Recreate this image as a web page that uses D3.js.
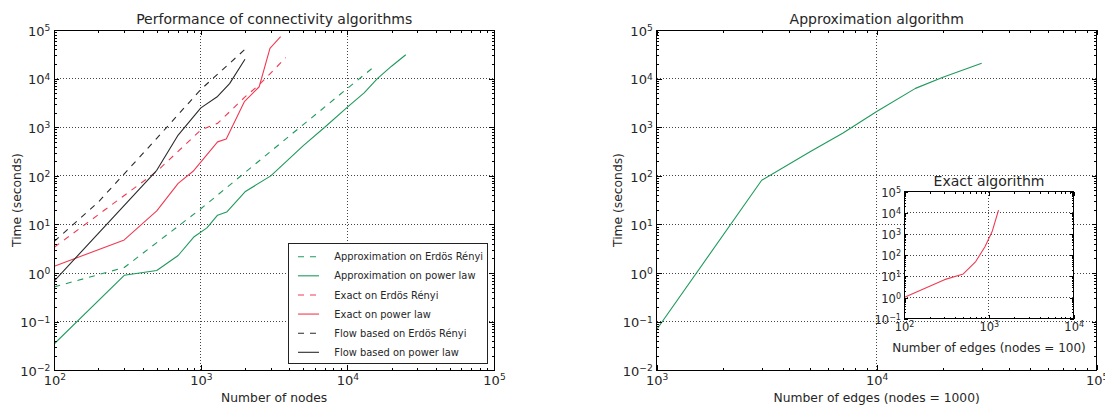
<!DOCTYPE html>
<html><head><meta charset="utf-8">
<script src="https://cdn.jsdelivr.net/npm/d3@7"></script>
<style>
body{margin:0;background:#fff}
svg{display:block}
text{font-family:"DejaVu Sans",sans-serif;fill:#262626}
</style>
</head><body>
<svg id="c" width="1105" height="405"></svg>
<script>
// ---------- data ----------
const approxERNodes = [100, 300, 1000, 3000, 10000, 15000];
const approxERTime  = [0.52, 1.3, 21, 320, 6300, 17000];
const approxPLNodes = [100, 300, 500, 700, 900, 1100, 1300, 1500, 2000, 3000, 5000, 7000, 10000, 13000, 16000, 20000, 25000];
const approxPLTime  = [0.035, 0.9, 1.13, 2.3, 5.6, 8.5, 15.5, 18, 47, 100, 420, 1000, 2600, 5100, 10000, 18000, 31000];
const exactERNodes  = [100, 500, 1000, 1300, 2000, 2500, 3800];
const exactERTime   = [3.4, 123, 880, 1200, 4200, 7500, 27000];
const exactPLNodes  = [100, 300, 500, 700, 885, 1300, 1490, 1980, 2500, 2960, 3500];
const exactPLTime   = [1.38, 4.8, 19, 70, 124, 500, 571, 3350, 6800, 42000, 73000];
const flowERNodes   = [100, 200, 500, 1000, 2000];
const flowERTime    = [4.5, 29, 590, 6000, 40000];
const flowPLNodes   = [100, 500, 700, 860, 1000, 1300, 1570, 2000];
const flowPLTime    = [0.69, 130, 690, 1450, 2500, 4300, 7900, 25000];

const approxEdges = [1000, 3000, 5000, 7000, 10000, 15000, 20000, 30000];
const approxTime  = [0.069, 81, 316, 750, 2100, 6300, 10700, 20600];
const exactEdges  = [100, 300, 500, 700, 900, 1100, 1300];
const exactTime   = [1, 7, 13, 50, 250, 1400, 13500];

const legendLabels = ["Approximation on Erdös Rényi", "Approximation on power law",
  "Exact on Erdös Rényi", "Exact on power law",
  "Flow based on Erdös Rényi", "Flow based on power law"];

const leftXTicks  = [1e2, 1e3, 1e4, 1e5];
const rightXTicks = [1e3, 1e4, 1e5];
const insetXTicks = [1e2, 1e3, 1e4];
const mainYTicks  = [1e-2, 1e-1, 1e0, 1e1, 1e2, 1e3, 1e4, 1e5];
const insetYTicks = [1e-1, 1e0, 1e1, 1e2, 1e3, 1e4, 1e5];

// ---------- styles ----------
const GREEN = "#1f9a5c", RED = "#f03a52", BLACK = "#2a2a2a";
const DASH = "6,6";

const svg = d3.select("#c");

function expStr(v) { const e = Math.round(Math.log10(v)); return e < 0 ? "\u2212" + (-e) : String(e); }
function minorsOf(domain) {
  const out = [];
  const a = Math.floor(Math.log10(domain[0])), b = Math.ceil(Math.log10(domain[1]));
  for (let d = a; d < b; d++) for (let k = 2; k <= 9; k++) {
    const v = k * Math.pow(10, d);
    if (v > domain[0] && v < domain[1]) out.push(v);
  }
  return out;
}
function supLabels(sel, fs) {
  sel.selectAll(".tick text").each(function(d) {
    const t = d3.select(this);
    t.text(null).attr("font-size", fs).attr("font-family", '"DejaVu Sans",sans-serif').attr("fill", "#262626");
    t.append("tspan").text("10");
    t.append("tspan").attr("dy", "-0.5em").attr("font-size", "0.7em").text(expStr(d));
  });
}

function drawAxes(g, x, y, o) {
  const [x0, x1] = x.range();
  const [yb, yt] = y.range();
  g.append("rect").attr("x", x0).attr("y", yt).attr("width", x1 - x0).attr("height", yb - yt).attr("fill", "#fff");
  const grid = g.append("g").attr("stroke", "#444").attr("stroke-width", 1).attr("stroke-dasharray", "1,2").attr("shape-rendering", "crispEdges");
  grid.selectAll("line.gx").data(o.xTicks.filter(v => x(v) > x0 + 1 && x(v) < x1 - 1)).join("line")
    .attr("x1", d => x(d)).attr("x2", d => x(d)).attr("y1", yt).attr("y2", yb);
  grid.selectAll("line.gy").data(o.yTicks.filter(v => y(v) > yt + 1 && y(v) < yb - 1)).join("line")
    .attr("class", "gy").attr("y1", d => y(d)).attr("y2", d => y(d)).attr("x1", x0).attr("x2", x1);
  return g;
}

function drawFrame(g, x, y, o) {
  const [x0, x1] = x.range();
  const [yb, yt] = y.range();
  const xm = minorsOf(x.domain()), ym = minorsOf(y.domain());
  const tk = (sel) => sel.call(s => s.select(".domain").remove())
    .call(s => s.selectAll(".tick line").attr("stroke", "#000").attr("shape-rendering", "crispEdges"));
  const b = g.append("g").attr("transform", `translate(0,${yb})`)
    .call(d3.axisBottom(x).tickValues(o.xTicks).tickSizeInner(-o.major).tickSizeOuter(0).tickPadding(o.xPad)).call(tk);
  supLabels(b, o.fs);
  g.append("g").attr("transform", `translate(0,${yb})`)
    .call(d3.axisBottom(x).tickValues(xm).tickSizeInner(-o.minor).tickSizeOuter(0).tickFormat("")).call(tk);
  g.append("g").attr("transform", `translate(0,${yt})`)
    .call(d3.axisTop(x).tickValues(o.xTicks).tickSizeInner(-o.major).tickSizeOuter(0).tickFormat("")).call(tk);
  g.append("g").attr("transform", `translate(0,${yt})`)
    .call(d3.axisTop(x).tickValues(xm).tickSizeInner(-o.minor).tickSizeOuter(0).tickFormat("")).call(tk);
  const l = g.append("g").attr("transform", `translate(${x0},0)`)
    .call(d3.axisLeft(y).tickValues(o.yTicks).tickSizeInner(-o.major).tickSizeOuter(0).tickPadding(o.yPad)).call(tk);
  supLabels(l, o.fs);
  l.selectAll(".tick text").attr("dy", "0.4em");
  g.append("g").attr("transform", `translate(${x0},0)`)
    .call(d3.axisLeft(y).tickValues(ym).tickSizeInner(-o.minor).tickSizeOuter(0).tickFormat("")).call(tk);
  g.append("g").attr("transform", `translate(${x1},0)`)
    .call(d3.axisRight(y).tickValues(o.yTicks).tickSizeInner(-o.major).tickSizeOuter(0).tickFormat("")).call(tk);
  g.append("g").attr("transform", `translate(${x1},0)`)
    .call(d3.axisRight(y).tickValues(ym).tickSizeInner(-o.minor).tickSizeOuter(0).tickFormat("")).call(tk);
  g.append("rect").attr("x", x0).attr("y", yt).attr("width", x1 - x0).attr("height", yb - yt)
    .attr("fill", "none").attr("stroke", "#000").attr("stroke-width", 1).attr("shape-rendering", "crispEdges");
}

function drawSeries(g, x, y, xs, ys, color, dashed) {
  const line = d3.line().x(d => x(d[0])).y(d => y(d[1]));
  g.append("path").datum(d3.zip(xs, ys)).attr("d", line)
    .attr("fill", "none").attr("stroke", color).attr("stroke-width", 1.1)
    .attr("stroke-dasharray", dashed ? DASH : null).attr("stroke-linejoin", "round");
}

// ---------- left panel ----------
const xL = d3.scaleLog().domain([1e2, 1e5]).range([54.3, 494]);
const yM = d3.scaleLog().domain([1e-2, 1e5]).range([370.3, 30]);
const gL = svg.append("g");
drawAxes(gL, xL, yM, { xTicks: leftXTicks, yTicks: mainYTicks });
svg.append("clipPath").attr("id", "clipL").append("rect").attr("x", 54.3).attr("y", 30).attr("width", 494 - 54.3).attr("height", 340.3);
const sL = gL.append("g").attr("clip-path", "url(#clipL)");
drawSeries(sL, xL, yM, approxERNodes, approxERTime, GREEN, true);
drawSeries(sL, xL, yM, approxPLNodes, approxPLTime, GREEN, false);
drawSeries(sL, xL, yM, exactERNodes, exactERTime, RED, true);
drawSeries(sL, xL, yM, exactPLNodes, exactPLTime, RED, false);
drawSeries(sL, xL, yM, flowERNodes, flowERTime, BLACK, true);
drawSeries(sL, xL, yM, flowPLNodes, flowPLTime, BLACK, false);
drawFrame(gL, xL, yM, { xTicks: leftXTicks, yTicks: mainYTicks, major: 5, minor: 2.5, fs: 13, xPad: 5, yPad: 4 });

// legend
const lg = gL.append("g");
lg.append("rect").attr("x", 288.5).attr("y", 243.5).attr("width", 199).attr("height", 120)
  .attr("fill", "#fff").attr("stroke", "#222").attr("stroke-width", 1).attr("shape-rendering", "crispEdges");
const legColors = [GREEN, GREEN, RED, RED, BLACK, BLACK];
const legDash = [true, false, true, false, true, false];
const legY = d3.scaleLinear().domain([0, 5]).range([256.7, 352.3]);
legendLabels.forEach((lab, i) => {
  lg.append("line").attr("x1", 298).attr("x2", 319).attr("y1", legY(i)).attr("y2", legY(i))
    .attr("stroke", legColors[i]).attr("stroke-width", 1.1).attr("stroke-dasharray", legDash[i] ? DASH : null);
  lg.append("text").attr("x", 334.3).attr("y", legY(i) + 3.6).attr("font-size", 9.9).text(lab);
});

gL.append("text").attr("x", 274.2).attr("y", 24).attr("text-anchor", "middle").attr("font-size", 14).text("Performance of connectivity algorithms");
gL.append("text").attr("x", 274.2).attr("y", 402).attr("text-anchor", "middle").attr("font-size", 12.3).text("Number of nodes");
gL.append("text").attr("transform", "translate(20.5,200) rotate(-90)").attr("text-anchor", "middle").attr("font-size", 12.3).text("Time (seconds)");

// ---------- right panel ----------
const xR = d3.scaleLog().domain([1e3, 1e5]).range([656.7, 1096.7]);
const gR = svg.append("g");
drawAxes(gR, xR, yM, { xTicks: rightXTicks, yTicks: mainYTicks });
svg.append("clipPath").attr("id", "clipR").append("rect").attr("x", 656.7).attr("y", 30).attr("width", 440).attr("height", 340.3);
drawSeries(gR.append("g").attr("clip-path", "url(#clipR)"), xR, yM, approxEdges, approxTime, GREEN, false);
drawFrame(gR, xR, yM, { xTicks: rightXTicks, yTicks: mainYTicks, major: 5, minor: 2.5, fs: 13, xPad: 5, yPad: 4 });
gR.append("text").attr("x", 876.7).attr("y", 24).attr("text-anchor", "middle").attr("font-size", 14).text("Approximation algorithm");
gR.append("text").attr("x", 876.7).attr("y", 401.5).attr("text-anchor", "middle").attr("font-size", 12.3).text("Number of edges (nodes = 1000)");
gR.append("text").attr("transform", "translate(622,200) rotate(-90)").attr("text-anchor", "middle").attr("font-size", 12.3).text("Time (seconds)");

// ---------- inset ----------
const xI = d3.scaleLog().domain([1e2, 1e4]).range([904, 1073.7]);
const yI = d3.scaleLog().domain([1e-1, 1e5]).range([318.7, 191.7]);
const gI = svg.append("g");
drawAxes(gI, xI, yI, { xTicks: insetXTicks, yTicks: insetYTicks });
drawSeries(gI, xI, yI, exactEdges, exactTime, RED, false);
drawFrame(gI, xI, yI, { xTicks: insetXTicks, yTicks: insetYTicks, major: 4, minor: 2, fs: 11.5, xPad: 4, yPad: 3 });
gI.append("text").attr("x", 989).attr("y", 185.5).attr("text-anchor", "middle").attr("font-size", 14).text("Exact algorithm");
gI.append("text").attr("x", 989).attr("y", 351.5).attr("text-anchor", "middle").attr("font-size", 12).text("Number of edges (nodes = 100)");
</script>
</body></html>
